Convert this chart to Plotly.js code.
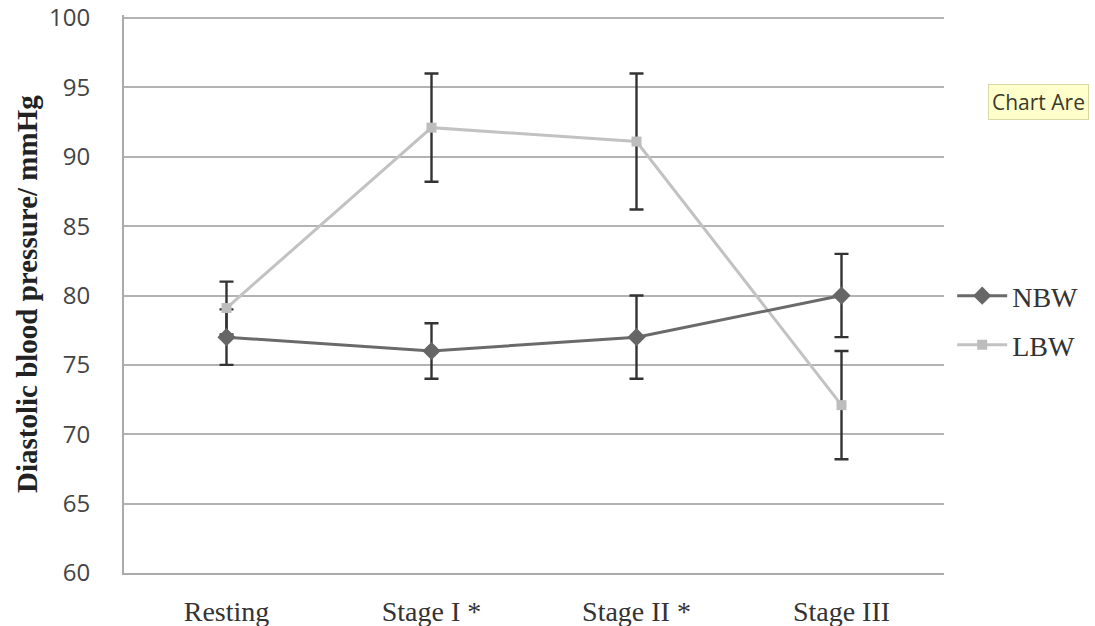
<!DOCTYPE html>
<html>
<head>
<meta charset="utf-8">
<script src="https://cdn.plot.ly/plotly-3.0.1.min.js"></script>
<style>html,body{margin:0;padding:0;background:#fff;}#chart{width:1095px;height:626px;}</style>
</head>
<body>
<div id="chart"></div>
<script>
var categories = ["Resting", "Stage I *", "Stage II *", "Stage III"];
var nbwValues = [77, 76, 77, 80];
var nbwErrors = [2, 2, 3, 3];
var lbwValues = [79.1, 92.1, 91.1, 72.1];
var lbwErrors = [1.9, 3.9, 4.9, 3.9];
var yTicks = [60, 65, 70, 75, 80, 85, 90, 95, 100];

var serif = "Liberation Serif, Times New Roman, serif";
var errStyle = {color: "#333333", thickness: 2.4, width: 7};

var traces = [
  {
    x: categories, y: nbwValues, type: "scatter", mode: "markers", showlegend: false, hoverinfo: "skip",
    marker: {opacity: 0, size: 1},
    error_y: Object.assign({type: "data", array: nbwErrors, visible: true}, errStyle)
  },
  {
    x: categories, y: lbwValues, type: "scatter", mode: "markers", showlegend: false, hoverinfo: "skip",
    marker: {opacity: 0, size: 1},
    error_y: Object.assign({type: "data", array: lbwErrors, visible: true}, errStyle)
  },
  {
    x: categories, y: lbwValues, name: "LBW", type: "scatter", mode: "lines+markers",
    line: {color: "#c2c2c2", width: 3},
    marker: {symbol: "square", size: 10, color: "#bdbdbd"},
    legend: "legend2"
  },
  {
    x: categories, y: nbwValues, name: "NBW", type: "scatter", mode: "lines+markers",
    line: {color: "#6a6a6a", width: 3},
    marker: {symbol: "diamond", size: 14, color: "#666666"},
    legend: "legend"
  }
];

var legendFont = {family: serif, size: 28, color: "#333"};

var layout = {
  width: 1095, height: 626,
  margin: {l: 124, r: 148, t: 15, b: 53},
  paper_bgcolor: "#ffffff", plot_bgcolor: "#ffffff",
  showlegend: true,
  xaxis: {
    type: "category", range: [-0.5, 3.5], showgrid: false, zeroline: false,
    showline: true, linecolor: "#aaaaaa", linewidth: 2,
    ticks: "outside", ticklen: 12, tickcolor: "rgba(0,0,0,0)",
    tickfont: {family: serif, size: 28, color: "#333"},
    fixedrange: true
  },
  yaxis: {
    range: [60, 100.22], tickvals: yTicks, ticktext: yTicks.map(String),
    showgrid: true, gridcolor: "#b3b3b3", gridwidth: 2,
    zeroline: false, showline: true, linecolor: "#aaaaaa", linewidth: 2,
    ticks: "outside", ticklen: 27, tickcolor: "rgba(0,0,0,0)",
    tickfont: {family: "Open Sans, DejaVu Sans, sans-serif", size: 24, color: "#444"}
  },
  legend: {
    x: 1.01, xanchor: "left", y: 1 - (296 - 15) / 558, yanchor: "middle",
    font: legendFont, bgcolor: "rgba(0,0,0,0)", itemwidth: 50
  },
  legend2: {
    x: 1.01, xanchor: "left", y: 1 - (345 - 15) / 558, yanchor: "middle",
    font: legendFont, bgcolor: "rgba(0,0,0,0)", itemwidth: 50
  },
  annotations: [
    {
      text: "<b>Diastolic blood pressure/ mmHg</b>",
      xref: "paper", yref: "paper", x: 0, y: 0.5, xshift: -97, xanchor: "center", yanchor: "middle",
      textangle: -90, showarrow: false,
      font: {family: serif, size: 29, color: "#222"}
    },
    {
      text: "Chart Are",
      xref: "paper", yref: "paper", x: 1, y: 1 - (102 - 15) / 558, xshift: 44, xanchor: "left", yanchor: "middle",
      showarrow: false, bgcolor: "#ffffcc", bordercolor: "#d9d9a6", borderwidth: 1, borderpad: 3,
      font: {family: "Open Sans, DejaVu Sans, sans-serif", size: 21, color: "#3a3a2a"}
    }
  ]
};

Plotly.newPlot("chart", traces, layout, {displayModeBar: false, staticPlot: true});
</script>
</body>
</html>
